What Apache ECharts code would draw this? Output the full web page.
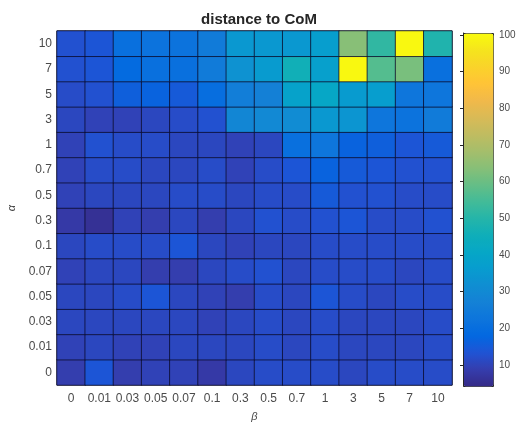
<!DOCTYPE html>
<html>
<head>
<meta charset="utf-8">
<script src="https://cdn.jsdelivr.net/npm/echarts@6/dist/echarts.min.js"></script>
<style>
  html, body { margin: 0; padding: 0; background: #fff; }
  #chart { width: 521px; height: 423px; }
</style>
</head>
<body>
<div id="chart"></div>
<script>
// Parameter values along each axis
const betaLabels = ['0', '0.01', '0.03', '0.05', '0.07', '0.1', '0.3', '0.5', '0.7', '1', '3', '5', '7', '10'];
const alphaLabels = ['0', '0.01', '0.03', '0.05', '0.07', '0.1', '0.3', '0.5', '0.7', '1', '3', '5', '7', '10'];

// Distance to centre of mass, one row per alpha (bottom row first), one entry per beta
const row_a0    = [9, 14, 9, 10, 10, 8, 11, 12, 12, 12, 11, 12, 12, 12];
const row_a0_01 = [10, 11, 10, 10, 11, 11, 11, 12, 11, 12, 11, 11, 11, 12];
const row_a0_03 = [11, 11, 11, 11, 11, 10, 11, 12, 11, 12, 11, 11, 11, 12];
const row_a0_05 = [11, 11, 12, 14, 11, 10, 9, 12, 11, 14, 12, 11, 12, 12];
const row_a0_07 = [10, 11, 11, 9, 9, 11, 12, 13, 11, 12, 12, 12, 11, 12];
const row_a0_1  = [11, 12, 12, 12, 14, 11, 10, 11, 11, 12, 12, 12, 12, 12];
const row_a0_3  = [8, 6, 10, 9, 11, 9, 11, 13, 12, 13, 14, 12, 12, 13];
const row_a0_5  = [10, 11, 11, 11, 12, 12, 11, 12, 12, 15, 13, 13, 12, 12];
const row_a0_7  = [10, 12, 12, 11, 11, 12, 10, 12, 14, 17, 15, 14, 13, 13];
const row_a1    = [10, 13, 12, 12, 11, 11, 10, 11, 21, 23, 17, 16, 14, 15];
const row_a3    = [11, 10, 10, 11, 12, 13, 29, 30, 31, 35, 34, 23, 22, 25];
const row_a5    = [12, 13, 16, 17, 15, 20, 26, 27, 39, 41, 36, 37, 23, 23];
const row_a7    = [13, 14, 19, 21, 21, 25, 33, 36, 46, 38, 100, 57, 62, 21];
const row_a10   = [13, 14, 21, 22, 22, 25, 35, 35, 35, 37, 64, 52, 100, 49];
const rows = [row_a0, row_a0_01, row_a0_03, row_a0_05, row_a0_07, row_a0_1, row_a0_3,
              row_a0_5, row_a0_7, row_a1, row_a3, row_a5, row_a7, row_a10];

// Colour bar range and tick values
const colorMin = 4.3;
const colorMax = 100.5;
const colorTicks = [10, 20, 30, 40, 50, 60, 70, 80, 90, 100];

// Parula colour map (every third entry of the 64-step table)
const parula = [
  [0.2081, 0.1663, 0.5292], [0.2081, 0.2386, 0.6771], [0.1253, 0.3242, 0.8303],
  [0.0060, 0.4086, 0.8828], [0.0498, 0.4586, 0.8641], [0.0779, 0.5040, 0.8384],
  [0.0641, 0.5570, 0.8240], [0.0265, 0.6137, 0.8135], [0.0228, 0.6535, 0.7768],
  [0.0590, 0.6838, 0.7254], [0.1453, 0.7098, 0.6646], [0.2586, 0.7317, 0.5954],
  [0.3953, 0.7459, 0.5244], [0.5300, 0.7491, 0.4661], [0.6473, 0.7456, 0.4188],
  [0.7525, 0.7384, 0.3768], [0.8507, 0.7299, 0.3360], [0.9450, 0.7261, 0.2886],
  [0.9990, 0.7653, 0.2164], [0.9789, 0.8271, 0.1633], [0.9589, 0.8949, 0.1132],
  [0.9763, 0.9831, 0.0538]
].map(c => 'rgb(' + c.map(v => Math.round(v * 255)).join(',') + ')');

const cells = [];
rows.forEach((row, yi) => row.forEach((v, xi) => cells.push([xi, yi, v])));

const textColor = '#4a4a4a';
const fontFamily = 'Liberation Sans, Arial, sans-serif';

const chart = echarts.init(document.getElementById('chart'), null, { renderer: 'canvas' });
chart.setOption({
  animation: false,
  backgroundColor: '#fff',
  title: {
    text: 'distance to CoM',
    left: 254, top: 7, textAlign: 'center',
    textStyle: { fontSize: 15, fontWeight: 'bold', color: '#262626', fontFamily }
  },
  grid: [
    { left: 57, top: 31, width: 395, height: 354, show: true, borderColor: '#262626', borderWidth: 1,
      backgroundColor: 'transparent', containLabel: false, outerBoundsMode: 'none' },
    { left: 463, top: 33, width: 30, height: 353, show: false, containLabel: false, outerBoundsMode: 'none' }
  ],
  xAxis: [
    {
      type: 'category', data: betaLabels, gridIndex: 0,
      name: 'β', nameLocation: 'middle', nameGap: 26,
      nameTextStyle: { fontSize: 11, color: textColor, fontFamily, fontStyle: 'italic' },
      axisLine: { show: false }, axisTick: { show: false },
      axisLabel: { interval: 0, fontSize: 12, color: textColor, fontFamily, margin: 8 },
      splitLine: { show: false }
    },
    { type: 'value', gridIndex: 1, show: false, min: 0, max: 1 }
  ],
  yAxis: [
    {
      type: 'category', data: alphaLabels, gridIndex: 0,
      name: 'α', nameLocation: 'middle', nameGap: 37,
      nameTextStyle: { fontSize: 11, color: textColor, fontFamily, fontStyle: 'italic' },
      axisLine: { show: false }, axisTick: { show: false },
      axisLabel: { interval: 0, fontSize: 12, color: textColor, fontFamily, margin: 5 },
      splitLine: { show: false }
    },
    {
      type: 'value', gridIndex: 1, position: 'right', min: colorMin, max: colorMax, z: 10,
      axisLine: { show: true, lineStyle: { color: '#262626' } },
      axisTick: { show: true, inside: true, length: 3, customValues: colorTicks, lineStyle: { color: '#262626' } },
      axisLabel: { customValues: colorTicks, fontSize: 10, color: textColor, fontFamily, margin: 6 },
      splitLine: { show: false }
    }
  ],
  visualMap: {
    type: 'continuous', min: colorMin, max: colorMax, seriesIndex: 0,
    calculable: false, orient: 'vertical', left: 463, top: 33,
    itemWidth: 30, itemHeight: 353, padding: 0, text: null,
    showLabel: false, hoverLink: false,
    borderColor: '#262626', borderWidth: 1,
    inRange: { color: parula }
  },
  series: [
    {
      type: 'heatmap', xAxisIndex: 0, yAxisIndex: 0, data: cells,
      itemStyle: { borderColor: 'rgba(10,10,40,0.75)', borderWidth: 1 },
      emphasis: { disabled: true }
    },
    {
      // keeps the colour bar axis bound to a series
      type: 'line', xAxisIndex: 1, yAxisIndex: 1, data: [], silent: true
    }
  ]
});
</script>
</body>
</html>
